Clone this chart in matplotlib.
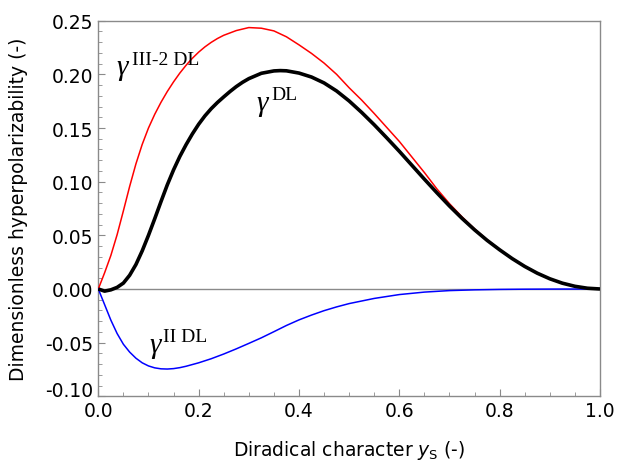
import matplotlib
matplotlib.use("Agg")
import matplotlib.pyplot as plt
from matplotlib.ticker import MultipleLocator, FormatStrFormatter

# ---- data ----
x_red = [0, 0.0125, 0.025, 0.0375, 0.05, 0.0625, 0.075, 0.0875, 0.1, 0.1125, 0.125, 0.1375,
         0.15, 0.1625, 0.175, 0.1875, 0.2, 0.2125, 0.225, 0.2375, 0.25, 0.275, 0.3, 0.325,
         0.35, 0.375, 0.4, 0.425, 0.45, 0.475, 0.5, 0.525, 0.55, 0.575, 0.6, 0.625, 0.65,
         0.675, 0.7, 0.725, 0.75, 0.775, 0.8, 0.825, 0.85, 0.875, 0.9, 0.925, 0.95, 0.975, 1.0]
y_red = [0, 0.015, 0.0312, 0.0506, 0.0728, 0.0956, 0.1166, 0.1347, 0.150, 0.1628, 0.1740,
         0.1840, 0.1930, 0.2012, 0.2085, 0.2150, 0.2207, 0.2256, 0.2298, 0.2334, 0.2364,
         0.2408, 0.2436, 0.2430, 0.2405, 0.2350, 0.2275, 0.2195, 0.2105, 0.200, 0.1875, 0.176,
         0.1635, 0.1505, 0.1375, 0.123, 0.1085, 0.0932, 0.0795, 0.0672, 0.0560, 0.0459,
         0.0369, 0.0286, 0.0212, 0.0148, 0.0096, 0.0055, 0.0025, 0.0007, 0]

x_blk = [0, 0.0125, 0.025, 0.0375, 0.05, 0.0625, 0.075, 0.0875, 0.1, 0.1125, 0.125, 0.1375,
         0.15, 0.1625, 0.175, 0.1875, 0.2, 0.2125, 0.225, 0.2375, 0.25, 0.2625, 0.275, 0.2875,
         0.3, 0.325, 0.35, 0.3625, 0.375, 0.4, 0.425, 0.45, 0.475, 0.5, 0.525, 0.55, 0.575,
         0.6, 0.625, 0.65, 0.675, 0.7, 0.725, 0.75, 0.775, 0.8, 0.825, 0.85, 0.875, 0.9,
         0.925, 0.95, 0.975, 1.0]
y_blk = [0, -0.002, -0.0008, 0.0015, 0.0055, 0.0128, 0.0228, 0.0355, 0.050, 0.0655, 0.0815,
         0.097, 0.111, 0.1235, 0.1345, 0.1445, 0.1535, 0.1613, 0.168, 0.1738, 0.179, 0.1840,
         0.1886, 0.1926, 0.1960, 0.2010, 0.2032, 0.2035, 0.2033, 0.2012, 0.1975, 0.192, 0.1845,
         0.1752, 0.1645, 0.1530, 0.1408, 0.1283, 0.1153, 0.1023, 0.0896, 0.0773, 0.0658,
         0.0551, 0.0453, 0.0365, 0.0283, 0.0210, 0.0147, 0.0095, 0.0054, 0.0025, 0.0007, 0]

x_blu = [0, 0.0125, 0.025, 0.0375, 0.05, 0.0625, 0.075, 0.0875, 0.1, 0.1125, 0.125, 0.1375,
         0.15, 0.1625, 0.175, 0.2, 0.225, 0.25, 0.275, 0.3, 0.325, 0.35, 0.375, 0.4, 0.425,
         0.45, 0.475, 0.5, 0.55, 0.6, 0.65, 0.7, 0.75, 0.8, 0.85, 0.9, 1.0]
y_blu = [0, -0.0145, -0.029, -0.0415, -0.0515, -0.0588, -0.0645, -0.0688, -0.0717, -0.0735,
         -0.0744, -0.0746, -0.0742, -0.0733, -0.0720, -0.0688, -0.0650, -0.0606, -0.0558,
         -0.0507, -0.0455, -0.0398, -0.034, -0.0288, -0.0243, -0.0202, -0.0167, -0.0136,
         -0.0088, -0.0052, -0.0029, -0.0015, -0.0008, -0.0004, -0.0002, -0.0001, 0]

x_label = r"Diradical character $y_{\mathrm{S}}$ (-)"
y_label = "Dimensionless hyperpolarizability (-)"

plt.rcParams['font.family'] = ['DejaVu Sans']
plt.rcParams['mathtext.fontset'] = 'dejavusans'
plt.rcParams['axes.unicode_minus'] = False

W, H = 617, 464
fig = plt.figure(figsize=(W / 100, H / 100), dpi=100)
L, R, T, B = 98.3, 600, 21.7, 397.3
ax = fig.add_axes([L / W, 1 - B / H, (R - L) / W, (B - T) / H])

gray = '#8a8a8a'
ax.axhline(0, color=gray, lw=1.0, zorder=1)
ax.plot(x_red, y_red, color='#ff0000', lw=1.1, zorder=3)
ax.plot(x_blu, y_blu, color='#0000ff', lw=1.1, zorder=3)
ax.plot(x_blk, y_blk, color='black', lw=2.6, zorder=4, solid_capstyle='butt')

ax.set_xlim(0, 1)
ax.set_ylim(-0.10, 0.25)
ax.xaxis.set_major_locator(MultipleLocator(0.2))
ax.xaxis.set_minor_locator(MultipleLocator(0.05))
ax.yaxis.set_major_locator(MultipleLocator(0.05))
ax.yaxis.set_minor_locator(MultipleLocator(0.01))
ax.xaxis.set_major_formatter(FormatStrFormatter('%.1f'))
ax.yaxis.set_major_formatter(FormatStrFormatter('%.2f'))
for s in ax.spines.values():
    s.set_color(gray)
    s.set_linewidth(1.0)
ax.tick_params(which='both', direction='in', color=gray, top=False, right=False)
ax.tick_params(which='major', length=5, width=0.8, labelsize=13.5)
ax.tick_params(which='minor', length=3, width=0.6)
ax.tick_params(axis='x', which='major', pad=3.5)
ax.tick_params(axis='y', which='major', pad=3.6)

# the lowest y label sits on its tick (as in the reference) to clear the x labels
ylocs = ax.yaxis.get_majorticklocs()
yticks = ax.yaxis.get_major_ticks()
for tk, loc in zip(yticks, ylocs):
    if abs(loc + 0.10) < 1e-9:
        tk.label1.set_verticalalignment('baseline')

fig.text(349 / W, 1 - 451 / H, x_label, ha='center', va='center', fontsize=13.5)
fig.text(18.5 / W, 1 - 209.5 / H, y_label, ha='center', va='center', rotation=90, fontsize=13.5)

serif = ['Liberation Serif', 'DejaVu Serif']
def glabel(px, py, sx, sy, sup):
    fig.text(px / W, 1 - py / H, "γ", family=serif, style='italic', fontsize=21,
             ha='left', va='baseline')
    fig.text(sx / W, 1 - sy / H, sup, family=serif, fontsize=14, ha='left', va='baseline')

glabel(116, 75, 132, 65, "III-2 DL")
glabel(256, 111, 271, 100, "DL")
glabel(149, 353, 163, 342, "II DL")

fig.savefig('out.png', dpi=100)
